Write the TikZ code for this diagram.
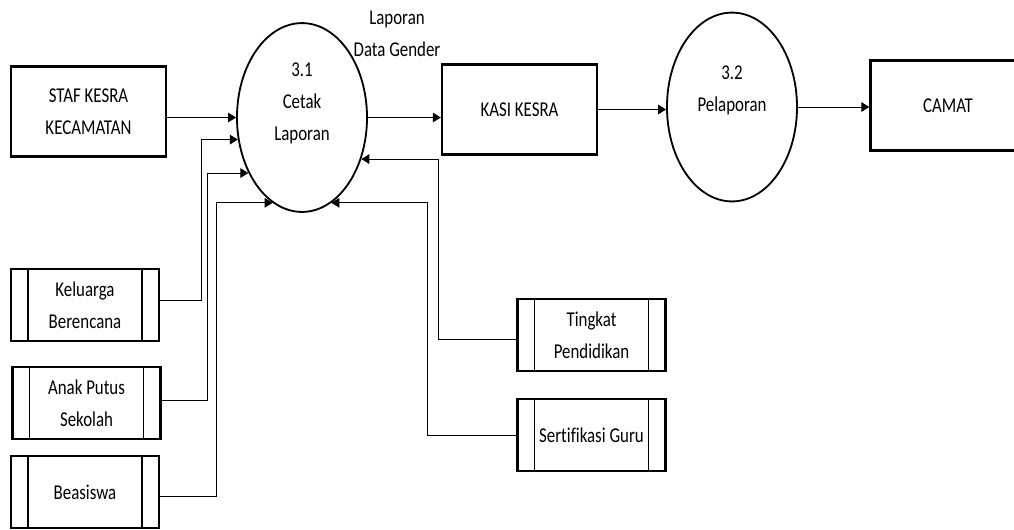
\documentclass[tikz,border=0pt]{standalone}
\usepackage{fontspec}
\setmainfont{Carlito}[FakeStretch=0.8, Ligatures=NoCommon]
\usetikzlibrary{shapes.geometric,arrows.meta}

\tikzset{
  entity/.style={draw, line width=1.6pt, minimum width=3.875cm, minimum height=2.25cm, align=center, inner sep=0pt},
  store/.style={draw, line width=1.6pt, minimum width=3.7cm, minimum height=1.8cm, align=center, inner sep=0pt},
  proc/.style={draw, ellipse, line width=1.3pt, minimum width=3.25cm, minimum height=4.72cm, inner sep=0pt},
  flow/.style={line width=0.7pt, -{Triangle[length=0.2cm,width=0.24cm]}},
  txt/.style={align=center, inner sep=0pt}
}

\begin{document}
\begin{tikzpicture}[x=0.025cm, y=-0.025cm, font=\fontsize{15}{22.8}\selectfont]
      \useasboundingbox (0,0) rectangle (1014,529);
      \clip (0,0) rectangle (1014,529);

      % external entities
      \node[entity] (staf) at (88.5,111.5) {STAF KESRA\\KECAMATAN};
      \node[entity] (kasi) at (519.5,109.5) {KASI KESRA};
      \node[entity] (camat) at (948,105.5) {CAMAT};

      % processes
      \node[proc] (p31) at (302,117.5) {};
      \node[txt] (t31) at (302,103) {3.1\\Cetak\\Laporan};
      \node[proc] (p32) at (732,107) {};
      \node[txt] (t32) at (732,90) {3.2\\Pelaporan};

      % data stores
      \node[store] (kb) at (85,305) {Keluarga\\Berencana};
      \node[store] (aps) at (86.5,403) {Anak Putus\\Sekolah};
      \node[store] (bs) at (85,492) {Beasiswa};
      \node[store] (tp) at (591.5,335) {Tingkat\\Pendidikan};
      \node[store] (sg) at (591.5,435) {Sertifikasi Guru};
      \foreach \s in {kb,aps,bs,tp,sg}{
        \draw[line width=1.2pt] ([xshift=0.45cm]\s.north west) -- ([xshift=0.45cm]\s.south west);
        \draw[line width=1.2pt] ([xshift=-0.45cm]\s.north east) -- ([xshift=-0.45cm]\s.south east);
      }

      % flows
      \node[txt] (lbl) at (397,34) {Laporan\\Data Gender};
      \draw[flow] (staf.east |- p31.west) -- (p31.west);
      \draw[flow] (p31.east) -- (p31.east -| kasi.west);
      \draw[flow] (kasi.east) -- (kasi.east -| p32.west);
      \draw[flow] (p32.east) -- (p32.east -| camat.west);

      \draw[flow] ([yshift=0.12cm]kb.east) -- ++(41,0) |- (p31.199.6);
      \draw[flow] ([yshift=0.07cm]aps.east) -- ++(46,0) |- (p31.226.5);
      \draw[flow] ([yshift=-0.12cm]bs.east) -- ++(56,0) |- (p31.251);
      \draw[flow] ([yshift=-0.1cm]tp.west) -- ++(-78,0) |- (p31.325.4);
      \draw[flow] (sg.west) -- ++(-89,0) |- (p31.289);
    \end{tikzpicture}
\end{document}
